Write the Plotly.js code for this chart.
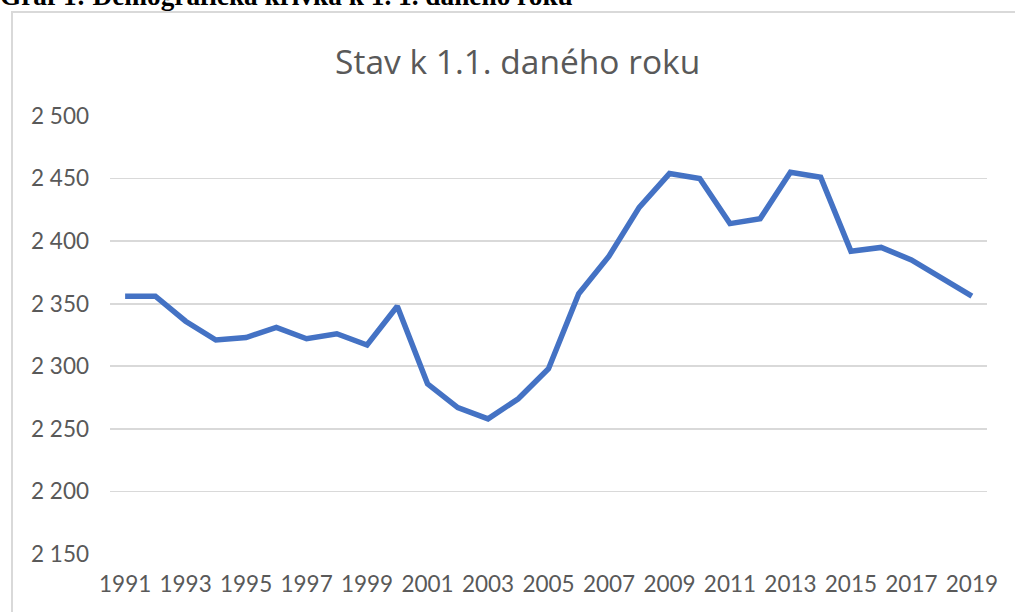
<!DOCTYPE html>
<html>
<head>
<meta charset="utf-8">
<script src="https://cdn.plot.ly/plotly-3.0.1.min.js"></script>
<style>
  html, body { margin: 0; padding: 0; width: 1015px; height: 612px; overflow: hidden; background: #fff; }
  #frame { position: absolute; left: 11px; top: 11px; width: 1100px; height: 700px;
           border-left: 2px solid #d9d9d9; border-top: 2px solid #d9d9d9; }
  #caption { position: absolute; left: 0px; top: -17px; font-family: "Liberation Serif", serif;
             font-weight: bold; font-size: 27.3px; line-height: 27px; color: #000; white-space: nowrap; }
  #chart { position: absolute; left: 0; top: 0; width: 1015px; height: 612px; }
</style>
</head>
<body>
<div id="frame"></div>
<div id="caption">Graf 1: Demografická křivka k 1. 1. daného roku</div>
<div id="chart"></div>
<script>
const years = ["1991","1992","1993","1994","1995","1996","1997","1998","1999","2000",
  "2001","2002","2003","2004","2005","2006","2007","2008","2009","2010",
  "2011","2012","2013","2014","2015","2016","2017","2018","2019"];
const population = [2356,2356,2336,2321,2323,2331,2322,2326,2317,2348,
  2286,2267,2258,2274,2298,2358,2388,2427,2454,2450,
  2414,2418,2455,2451,2392,2395,2385,2371,2356];
const xTickLabels = ["1991","1993","1995","1997","1999","2001","2003","2005","2007","2009","2011","2013","2015","2017","2019"];
const chartTitle = "Stav k 1.1. daného roku";

const trace = {
  x: years, y: population, type: "scatter", mode: "lines",
  line: { color: "#4472C4", width: 5.5, shape: "linear" },
  hoverinfo: "x+y"
};
const layout = {
  width: 1015, height: 612,
  paper_bgcolor: "rgba(0,0,0,0)", plot_bgcolor: "rgba(0,0,0,0)",
  margin: { l: 110, r: 28, t: 116, b: 58 },
  separators: ", ",
  showlegend: false,
  title: { text: chartTitle, xref: "container", x: 0.51, xanchor: "center",
           yref: "container", y: 1 - 62/612, yanchor: "middle",
           font: { family: "'Open Sans', Lato, sans-serif", size: 33.5, color: "#595959" } },
  xaxis: { type: "category", range: [-0.5, 28.5], tickmode: "array", tickvals: xTickLabels, ticktext: xTickLabels,
           showgrid: false, zeroline: false, showline: false, ticks: "",
           tickfont: { family: "Lato, sans-serif", size: 22.5, color: "#595959" }, ticklabelstandoff: 14 },
  yaxis: { range: [2150, 2500], dtick: 50, tick0: 2150, tickformat: ",d",
           showgrid: true, gridcolor: "#d9d9d9", gridwidth: 1.6, zeroline: false, showline: false, ticks: "",
           tickfont: { family: "Lato, sans-serif", size: 22.5, color: "#595959" }, ticklabelstandoff: 20 }
};
Plotly.newPlot("chart", [trace], layout, { displayModeBar: false, staticPlot: true });
</script>
</body>
</html>
